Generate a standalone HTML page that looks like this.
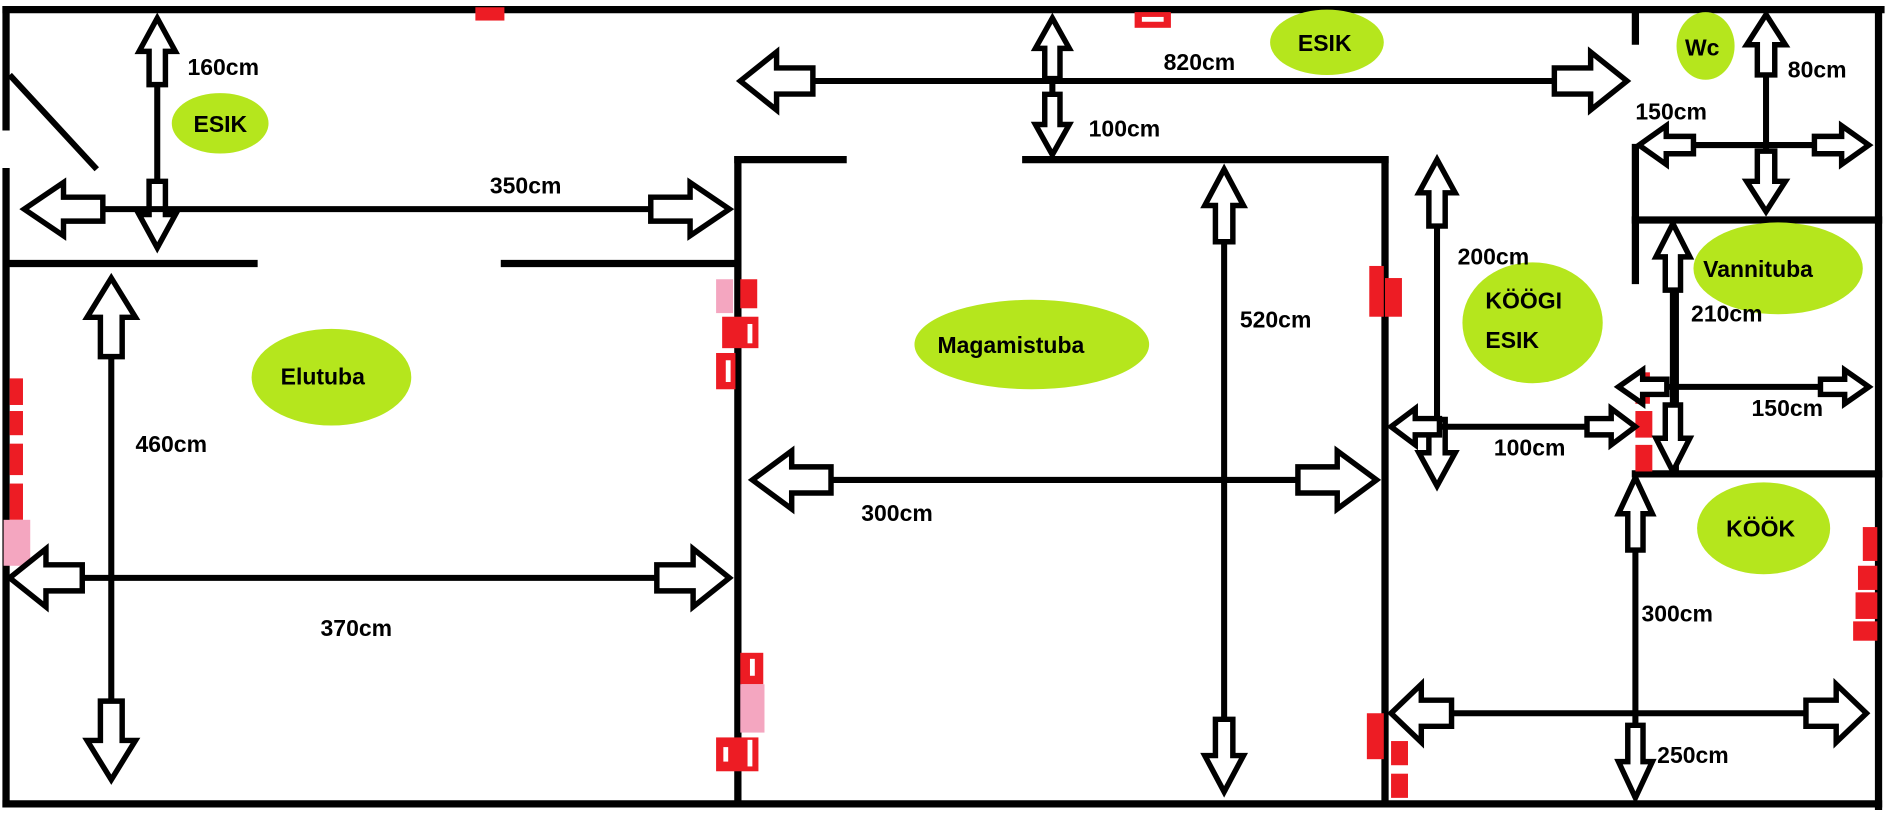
<!DOCTYPE html>
<html><head><meta charset="utf-8"><style>
html,body{margin:0;padding:0;background:#fff;}
svg{display:block;}
text{font-family:"Liberation Sans",sans-serif;font-weight:bold;font-size:19px;fill:#000;}
</style></head><body>
<svg id="s" width="1887" height="816" viewBox="0 0 1560 675" preserveAspectRatio="none" xmlns="http://www.w3.org/2000/svg">
<rect width="1560" height="675" fill="#fff"/>
<g stroke="#000" stroke-width="6" fill="none" stroke-linecap="square">
<line x1="5" y1="8" x2="1555" y2="8"/>
<line x1="1553" y1="8" x2="1553" y2="667"/>
<line x1="5" y1="665" x2="1553" y2="665"/>
<line x1="5" y1="8" x2="5" y2="105"/>
<line x1="5" y1="142" x2="5" y2="665"/>
<line x1="8" y1="218" x2="210" y2="218"/>
<line x1="417" y1="218" x2="610" y2="218"/>
<line x1="610" y1="132" x2="610" y2="665"/>
<line x1="610" y1="132" x2="697" y2="132"/>
<line x1="848" y1="132" x2="1145" y2="132"/>
<line x1="1145" y1="132" x2="1145" y2="665"/>
<line x1="1352" y1="8" x2="1352" y2="34"/>
<line x1="1352" y1="122" x2="1352" y2="232"/>
<line x1="1352" y1="182" x2="1553" y2="182"/>
<line x1="1352" y1="392" x2="1553" y2="392"/>
<line x1="1385" y1="235" x2="1385" y2="392"/>
</g>
<line x1="8" y1="62" x2="80" y2="140" stroke="#000" stroke-width="5"/>
<g fill="#b5e61d">
<ellipse cx="182" cy="102" rx="40" ry="25"/>
<ellipse cx="1097" cy="35" rx="47" ry="27"/>
<ellipse cx="1410" cy="38" rx="24" ry="28"/>
<ellipse cx="1267" cy="267" rx="58" ry="50"/>
<ellipse cx="1470" cy="222" rx="70" ry="38"/>
<ellipse cx="853" cy="285" rx="97" ry="37"/>
<ellipse cx="274" cy="312" rx="66" ry="40"/>
<ellipse cx="1458" cy="437" rx="55" ry="38"/>
</g>
<g fill="#ed1c24">
<rect x="393" y="6" width="24" height="11"/>
<rect x="938" y="10" width="30" height="13"/>
<rect x="8" y="313" width="11" height="22"/>
<rect x="8" y="340" width="11" height="20"/>
<rect x="8" y="367" width="11" height="26"/>
<rect x="8" y="400" width="11" height="30"/>
<rect x="612" y="231" width="14" height="24"/>
<rect x="597" y="262" width="30" height="26"/>
<rect x="592" y="292" width="16" height="30"/>
<rect x="612" y="540" width="19" height="26"/>
<rect x="592" y="610" width="35" height="28"/>
<rect x="1132" y="220" width="12" height="42"/>
<rect x="1145" y="230" width="14" height="32"/>
<rect x="1130" y="590" width="14" height="38"/>
<rect x="1150" y="613" width="14" height="20"/>
<rect x="1150" y="640" width="14" height="20"/>
<rect x="1352" y="308" width="12" height="26"/>
<rect x="1352" y="340" width="14" height="22"/>
<rect x="1352" y="368" width="14" height="22"/>
<rect x="1540" y="436" width="12" height="28"/>
<rect x="1536" y="468" width="16" height="20"/>
<rect x="1534" y="490" width="18" height="22"/>
<rect x="1532" y="514" width="20" height="16"/>
</g>
<g fill="#f4a6c0"><rect x="3" y="430" width="22" height="38"/><rect x="592" y="231" width="14" height="28"/><rect x="612" y="566" width="20" height="40"/></g>
<g fill="#fff">
<rect x="944" y="14" width="18" height="4"/><rect x="600" y="298" width="4" height="18"/><rect x="618" y="268" width="4" height="16"/><rect x="620" y="545" width="4" height="14"/><rect x="598" y="618" width="4" height="12"/><rect x="618" y="612" width="4" height="22"/>
</g>
<g id="arrows"></g>
<text x="155" y="62">160cm</text>
<text x="160" y="109">ESIK</text>
<text x="405" y="160">350cm</text>
<text x="962" y="58">820cm</text>
<text x="1073" y="42">ESIK</text>
<text x="900" y="113">100cm</text>
<text x="1393" y="46">Wc</text>
<text x="1478" y="64">80cm</text>
<text x="1352" y="99">150cm</text>
<text x="1025" y="271">520cm</text>
<text x="1205" y="219">200cm</text>
<text x="1228" y="255">KÖÖGI</text>
<text x="1228" y="288">ESIK</text>
<text x="1408" y="229">Vannituba</text>
<text x="1398" y="266">210cm</text>
<text x="775" y="292">Magamistuba</text>
<text x="232" y="318">Elutuba</text>
<text x="112" y="374">460cm</text>
<text x="712" y="431">300cm</text>
<text x="1235" y="377">100cm</text>
<text x="1448" y="344">150cm</text>
<text x="1427" y="444">KÖÖK</text>
<text x="1357" y="514">300cm</text>
<text x="265" y="526">370cm</text>
<text x="1370" y="631">250cm</text>
</svg>
<script>
var g=document.getElementById('arrows'),ns='http://www.w3.org/2000/svg';
function head(x,y,dx,dy,L,W,w){ // tip at x,y, direction pointing (dx,dy)
 var px=-dy,py=dx;
 var pts=[[0,0],[-L*0.5,W],[-L*0.5,w],[-L,w],[-L,-w],[-L*0.5,-w],[-L*0.5,-W]];
 var s=pts.map(function(p){return (x+dx*p[0]+px*p[1])+','+(y+dy*p[0]+py*p[1]);}).join(' ');
 var e=document.createElementNS(ns,'polygon');e.setAttribute('points',s);
 e.setAttribute('fill','#fff');e.setAttribute('stroke','#000');e.setAttribute('stroke-width','4.5');e.setAttribute('stroke-linejoin','miter');g.appendChild(e);
}
function arr(x1,y1,x2,y2,L,W){
 L=L||60;W=W||20;var w=W*0.45;
 var l=document.createElementNS(ns,'line');
 l.setAttribute('x1',x1);l.setAttribute('y1',y1);l.setAttribute('x2',x2);l.setAttribute('y2',y2);
 l.setAttribute('stroke','#000');l.setAttribute('stroke-width','5');g.appendChild(l);
 var d=Math.hypot(x2-x1,y2-y1),dx=(x2-x1)/d,dy=(y2-y1)/d;
 head(x2,y2,dx,dy,L,W,w);head(x1,y1,-dx,-dy,L,W,w);
}
arr(130,15,130,205,55,15);
arr(20,173,603,173,65,22);
arr(612,67,1345,67,60,24);
arr(870,15,870,128,50,14);
arr(1012,140,1012,655,60,16);
arr(622,397,1138,397,65,24);
arr(92,230,92,645,65,20);
arr(8,478,603,478,60,24);
arr(1188,132,1188,402,55,15);
arr(1150,353,1352,353,40,15);
arr(1460,12,1460,175,50,16);
arr(1355,120,1545,120,45,16);
arr(1383,185,1383,390,55,14);
arr(1338,320,1545,320,40,14);
arr(1352,395,1352,660,60,14);
arr(1150,590,1543,590,50,24);
</script>
</body></html>
